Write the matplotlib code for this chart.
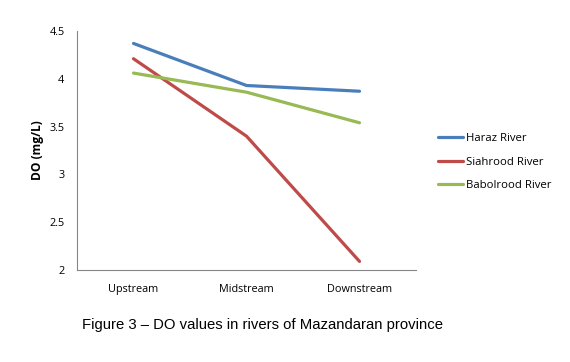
import matplotlib
matplotlib.use("Agg")
import matplotlib.pyplot as plt

categories = ["Upstream", "Midstream", "Downstream"]
haraz = [4.37, 3.93, 3.87]
siahrood = [4.21, 3.40, 2.09]
babolrood = [4.06, 3.86, 3.54]
series_names = ["Haraz River", "Siahrood River", "Babolrood River"]
yticks = [2, 2.5, 3, 3.5, 4, 4.5]

fig = plt.figure(figsize=(5.7, 3.62), dpi=100)
ax = fig.add_axes([77/570, 1-270/362, 339/570, 239/362])

x = range(len(categories))
colors = ["#4A7EBB", "#BE4B48", "#98B954"]
for vals, name, c in zip([haraz, siahrood, babolrood], series_names, colors):
    ax.plot(x, vals, color=c, lw=2.3, label=name, solid_capstyle="round")

ax.set_xlim(-0.5, 2.5)
ax.set_ylim(2, 4.5)
ax.set_yticks(yticks)
ax.set_yticklabels([f"{t:g}" for t in yticks], fontsize=7.8, family="Open Sans")
ax.set_xticks(list(x))
ax.set_xticklabels(categories, fontsize=7.8, family="Open Sans")
ax.tick_params(length=0, pad=9)
ax.tick_params(axis="x", pad=10)
for s in ["top", "right"]:
    ax.spines[s].set_visible(False)
ax.spines["left"].set_color("#868686")
ax.spines["bottom"].set_color("#868686")
ax.spines["left"].set_linewidth(0.8)
ax.spines["bottom"].set_linewidth(0.8)
ax.set_ylabel("DO (mg/L)", fontsize=8.6, fontweight="bold", family="Open Sans", labelpad=4)

leg = fig.legend(loc="upper left", bbox_to_anchor=(428/570, 1-123/362), frameon=False,
                 prop={"family": "Open Sans", "size": 8.2}, handlelength=2.2,
                 handletextpad=0.2, labelspacing=1.1)

fig.text(263/570, 1-325/362, "Figure 3 \u2013 DO values in rivers of Mazandaran province",
         ha="center", va="center", fontsize=10.7, family="Liberation Sans")

fig.savefig("out.png", dpi=100)
